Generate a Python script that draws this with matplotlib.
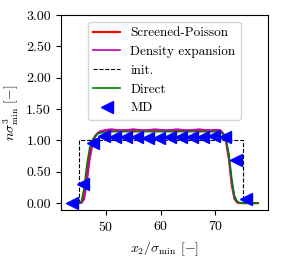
import matplotlib
matplotlib.use("Agg")
import matplotlib.pyplot as plt
from matplotlib.ticker import FormatStrFormatter

plt.rcParams['font.family'] = 'serif'
plt.rcParams['font.serif'] = ['cmr10']
plt.rcParams['mathtext.fontset'] = 'cm'
plt.rcParams['axes.formatter.use_mathtext'] = True
plt.rcParams['font.size'] = 10

# Shared x grid of the continuum profiles
x_prof = [44.0, 45.0, 45.5, 46.0, 46.5, 47.0, 47.5, 48.0, 48.5, 49.0, 49.5,
          50, 51, 52, 53, 54, 55, 56, 57, 58, 59, 60, 61, 62, 63, 64, 65,
          66, 67, 68, 69, 70,
          70.5, 71.0, 71.5, 72.0, 72.5, 73.0, 73.5, 74.0, 74.5, 75.0, 76.0, 77.0, 77.8]

screened_poisson = [0.0, 0.0, 0.01, 0.12, 0.45, 0.78, 0.97, 1.07, 1.12, 1.14, 1.15,
                    1.16, 1.16, 1.16, 1.16, 1.16, 1.16, 1.16, 1.16, 1.16, 1.16, 1.16,
                    1.16, 1.16, 1.16, 1.16, 1.16, 1.16, 1.16, 1.16, 1.16, 1.16,
                    1.16, 1.15, 1.10, 0.96, 0.70, 0.30, 0.07, 0.01, 0.0, 0.0, 0.0, 0.0, 0.0]

density_expansion = [0.0, 0.0, 0.0, 0.06, 0.32, 0.68, 0.92, 1.05, 1.12, 1.15, 1.16,
                     1.17, 1.18, 1.17, 1.16, 1.17, 1.18, 1.17, 1.16, 1.17, 1.18, 1.17,
                     1.16, 1.17, 1.18, 1.17, 1.16, 1.17, 1.18, 1.17, 1.16, 1.17,
                     1.17, 1.16, 1.11, 0.97, 0.72, 0.32, 0.08, 0.015, 0.0, 0.0, 0.0, 0.0, 0.0]

direct = [0.0, 0.0, 0.03, 0.25, 0.62, 0.88, 1.01, 1.07, 1.11, 1.12, 1.13,
          1.13, 1.14, 1.14, 1.14, 1.14, 1.14, 1.14, 1.14, 1.14, 1.14, 1.14,
          1.14, 1.14, 1.14, 1.14, 1.14, 1.14, 1.14, 1.14, 1.14, 1.14,
          1.14, 1.13, 1.10, 1.00, 0.78, 0.40, 0.12, 0.03, 0.005, 0.0, 0.0, 0.0, 0.0]

# Initial step profile
x_init = [44.0, 45.0, 45.0, 75.0, 75.0, 77.8]
init = [0.0, 0.0, 1.0, 1.0, 0.0, 0.0]

# MD data
x_md = [43.7, 45.7, 47.7, 49.7, 51.7, 53.7, 55.7, 57.7, 59.7, 61.7, 63.7,
        65.7, 67.7, 69.7, 71.7, 73.7, 75.6]
md = [0.01, 0.31, 0.96, 1.07, 1.06, 1.05, 1.05, 1.04, 1.04, 1.05, 1.05,
      1.05, 1.06, 1.07, 1.05, 0.69, 0.07]

fig = plt.figure(figsize=(2.83, 2.59), dpi=100)
ax = fig.add_axes([0.2145, 0.189, 0.7335, 0.753])

ax.plot(x_prof, screened_poisson, color='red', lw=1.5, label='Screened-Poisson')
ax.plot(x_prof, density_expansion, color='m', lw=1.2, label='Density expansion')
ax.plot(x_init, init, color='black', lw=0.8, ls='--', label='init.')
ax.plot(x_prof, direct, color='green', lw=1.2, label='Direct')
ax.plot(x_md, md, ls='none', marker='<', ms=9, color='blue', label='MD')

ax.set_xlim(41.7, 79.7)
ax.set_ylim(-0.11, 3.0)
ax.set_yticks([0.0, 0.5, 1.0, 1.5, 2.0, 2.5, 3.0])
ax.set_xticks([50, 60, 70])
ax.yaxis.set_major_formatter(FormatStrFormatter('%.2f'))
ax.set_xlabel(r'$x_2/\sigma_{\min}$ $[-]$')
ax.set_ylabel(r'$n\sigma^3_{\min}$ $[-]$')
ax.legend(loc='upper center', fontsize=9.5)

fig.savefig('out.png', dpi=100)
